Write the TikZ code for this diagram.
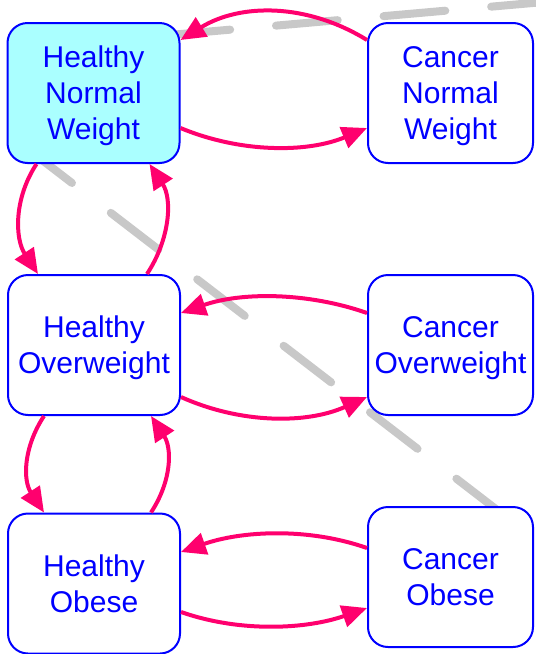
\documentclass[tikz,border=0pt]{standalone}
\usepackage{fontspec}
\setmainfont{Liberation Sans}
\usetikzlibrary{arrows.meta}
\definecolor{stateblue}{RGB}{0,0,255}
\definecolor{statecyan}{RGB}{170,255,255}
\definecolor{flowpink}{RGB}{255,0,110}
\definecolor{dividergray}{RGB}{200,200,200}

\begin{document}
\begin{tikzpicture}[x=1pt,y=1pt,
  state/.style={draw=stateblue, line width=2pt, rounded corners=20pt, fill=white,
    text=stateblue, align=center, inner sep=0pt, minimum height=140pt,
    text depth=0pt, font=\fontsize{30}{36}\selectfont},
  healthy/.style={state, minimum width=172pt},
  cancer/.style={state, minimum width=165pt},
  flow/.style={draw=flowpink, line width=4pt, -{Triangle[length=25pt,width=22pt]}},
  divider/.style={draw=dividergray, line width=8pt, line cap=round}]

\useasboundingbox (0,0) rectangle (536,-654);
\clip (0,0) rectangle (536,-654);

% dashed dividing lines, behind the states
\draw[divider, dash pattern=on 62pt off 46pt] (168.4,-35.1) -- (566.8,0);
\draw[divider, dash pattern=on 60pt off 49pt] (24.4,-146.4) -- (507,-517.6);

% states
\node[healthy, fill=statecyan] (hnw) at (93.5,-93) {Healthy\\Normal\\Weight};
\node[cancer] (cnw) at (450.5,-93) {Cancer\\Normal\\Weight};
\node[healthy] (how) at (94,-345) {Healthy\\Overweight};
\node[cancer] (cow) at (450.5,-345) {Cancer\\Overweight};
\node[healthy] (hob) at (94,-583.5) {Healthy\\Obese};
\node[cancer] (cob) at (450.5,-577) {Cancer\\Obese};

% transitions between healthy and cancer
\draw[flow] ([yshift=53pt]cnw.west) .. controls +(-60,37) and +(60,37) .. ([yshift=53pt]hnw.east);
\draw[flow] ([yshift=-35pt]hnw.east) .. controls +(60,-25) and +(-60,-25) .. ([yshift=-35pt]cnw.west);
\draw[flow] ([yshift=32pt]cow.west) .. controls +(-60,21) and +(60,21) .. ([yshift=32pt]how.east);
\draw[flow] ([yshift=-52pt]how.east) .. controls +(60,-27) and +(-60,-27) .. ([yshift=-52pt]cow.west);
\draw[flow] ([yshift=29pt]cob.west) .. controls +(-60,21) and +(60,21) .. ([yshift=31.5pt]hob.east);
\draw[flow] ([yshift=-28.5pt]hob.east) .. controls +(60,-21) and +(-60,-21) .. ([yshift=-31pt]cob.west);

% transitions between weight classes
\draw[flow] ([xshift=30pt]hnw.south west) .. controls +(-23,-35) and +(-23,35) .. ([xshift=31pt]how.north west);
\draw[flow] ([xshift=140pt]how.north west) .. controls +(23,35) and +(23,-35) .. ([xshift=143pt]hnw.south west);
\draw[flow] ([xshift=37pt]how.south west) .. controls +(-21,-32) and +(-21,32) .. ([xshift=37pt]hob.north west);
\draw[flow] ([xshift=144pt]hob.north west) .. controls +(21,32) and +(21,-32) .. ([xshift=144pt]how.south west);
\end{tikzpicture}
\end{document}
